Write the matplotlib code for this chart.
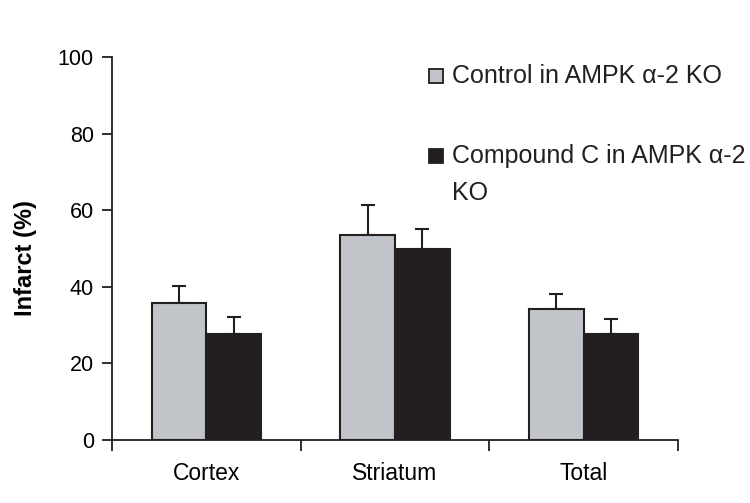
import numpy as np
import matplotlib.pyplot as plt
from matplotlib.patches import Rectangle

plt.rcParams['font.family'] = ['Liberation Sans', 'DejaVu Sans']

regions = ["Cortex", "Striatum", "Total"]
control = [35.9, 53.5, 34.3]
control_err = [4.4, 7.9, 3.8]
compound = [27.8, 49.8, 27.8]
compound_err = [4.4, 5.4, 3.7]
labels = ["Control in AMPK \u03b1-2 KO", "Compound C in AMPK \u03b1-2"]

ink = "#231f20"
grey = "#c1c5ca"

fig = plt.figure(figsize=(7.5, 5.03), dpi=100)
ax = fig.add_axes([112/750, 1-440/503, 566/750, 382.7/503])

x = np.arange(len(regions))
w = 0.29
ax.bar(x - w/2, control, w, color=grey, edgecolor=ink, linewidth=1.5, zorder=2)
ax.bar(x + w/2, compound, w, color=ink, edgecolor=ink, linewidth=1.5, zorder=2)
ax.errorbar(x - w/2, control, yerr=[np.zeros(3), control_err], fmt="none",
            ecolor=ink, elinewidth=1.5, capsize=5, capthick=1.5, zorder=1)
ax.errorbar(x + w/2, compound, yerr=[np.zeros(3), compound_err], fmt="none",
            ecolor=ink, elinewidth=1.5, capsize=5, capthick=1.5, zorder=1)

ax.set_xlim(-0.5, 2.5)
ax.set_ylim(0, 100)
ax.set_yticks([0, 20, 40, 60, 80, 100])
ax.set_xticks(x)
ax.set_xticklabels(regions, fontsize=16.5)
ax.set_xticks([-0.5, 0.5, 1.5, 2.5], minor=True)
ax.tick_params(axis="x", which="major", length=0, pad=16)
ax.tick_params(axis="x", which="minor", length=8, width=1.3, color=ink, direction="out")
ax.tick_params(axis="y", length=7, width=1.3, color=ink, pad=6, labelsize=15.5)

for s in ["top", "right"]:
    ax.spines[s].set_visible(False)
for s in ["left", "bottom"]:
    ax.spines[s].set_linewidth(1.3)
    ax.spines[s].set_color(ink)

ax.set_ylabel("Infarct (%)", fontsize=17, fontweight="bold")
ax.yaxis.set_label_coords(-0.1325, 0.475)

# legend drawn by hand to keep the wrapped second entry
def fx(px):
    return (px - 112) / 566

def fy(py):
    return (440 - py) / 382.7

sq_w, sq_h = 14/566, 14/382.7
ax.add_patch(Rectangle((fx(429), fy(83.3)), sq_w, sq_h, transform=ax.transAxes,
                       facecolor=grey, edgecolor=ink, linewidth=1.3, clip_on=False))
ax.add_patch(Rectangle((fx(429), fy(163.3)), sq_w, sq_h, transform=ax.transAxes,
                       facecolor=ink, edgecolor=ink, linewidth=1.3, clip_on=False))
ax.text(fx(452), fy(83.3), labels[0], transform=ax.transAxes, fontsize=18,
        va="baseline", ha="left", color=ink)
ax.text(fx(452), fy(163.3), labels[1], transform=ax.transAxes, fontsize=18,
        va="baseline", ha="left", color=ink)
ax.text(fx(452), fy(200), "KO", transform=ax.transAxes, fontsize=18,
        va="baseline", ha="left", color=ink)

fig.savefig("out.png", dpi=100)
